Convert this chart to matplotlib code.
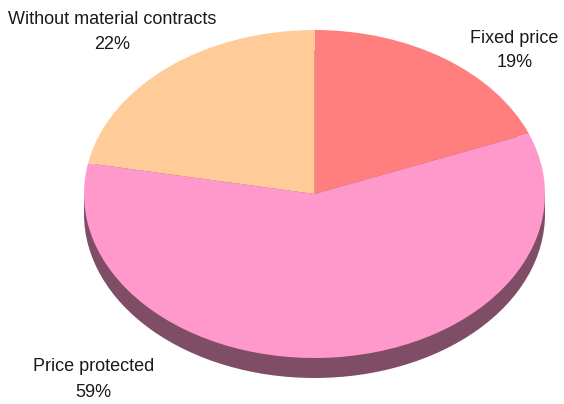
import matplotlib
matplotlib.use("Agg")
import matplotlib.pyplot as plt
from matplotlib.patches import Circle, Rectangle

categories = ["Fixed price", "Price protected", "Without material contracts"]
shares = [19, 59, 22]
colors = ["#FF7F7F", "#FF99CC", "#FFCC99"]
shadow_color = "#804D66"

W, H = 564, 404
fig = plt.figure(figsize=(W / 100, H / 100), dpi=100)
ax = fig.add_axes([0, 0, 1, 1])
ax.set_axis_off()

# pie centre and radii in pixels; the pie is squashed vertically
cx, cy = 314.5, 194.0
rx, ry = 230.5, 164.0
ax.set_xlim(-cx / rx, (W - cx) / rx)
ax.set_ylim(-(H - cy) / ry, cy / ry)
ax.set_aspect("auto")

# extruded rim below the top face
depth = 20.0 / ry
ax.add_patch(Circle((0, -depth), 1.0, facecolor=shadow_color, edgecolor="none", zorder=1))
ax.add_patch(Rectangle((-1, -depth), 2, depth, facecolor=shadow_color, edgecolor="none", zorder=1))

wedges, _ = ax.pie(shares, colors=colors, startangle=90, counterclock=False,
                   radius=1.0, wedgeprops=dict(edgecolor="none", linewidth=0))
for w in wedges:
    w.set_zorder(2)
ax.set_xlim(-cx / rx, (W - cx) / rx)
ax.set_ylim(-(H - cy) / ry, cy / ry)
ax.set_aspect("auto")

font = dict(family=["Liberation Sans", "DejaVu Sans"], fontsize=13, color="#1a1a1a",
            ha="center", va="baseline")

# label positions (pixel centre x, baselines of the two lines)
label_pos = {
    "Fixed price": (514.5, 43, 67),
    "Price protected": (93.5, 371, 397),
    "Without material contracts": (112.5, 24, 49),
}
for name, val in zip(categories, shares):
    x, b1, b2 = label_pos[name]
    fig.text(x / W, 1 - b1 / H, name, **font)
    fig.text(x / W, 1 - b2 / H, f"{val}%", **font)

fig.savefig("out.png", dpi=100)
